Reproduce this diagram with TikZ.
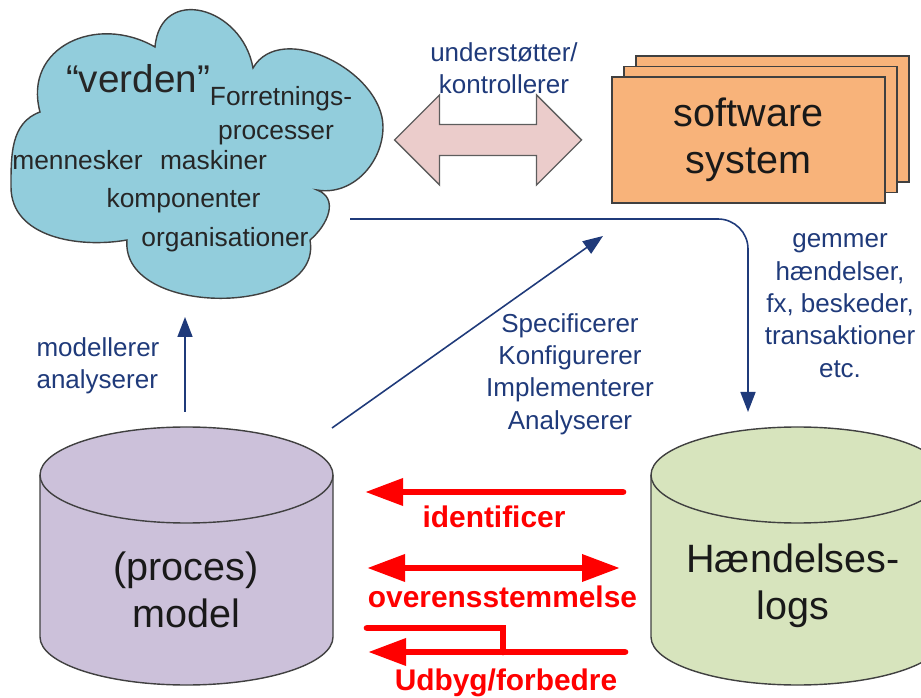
\documentclass[tikz,border=0pt]{standalone}
\usepackage{fontspec}
\setmainfont{Liberation Sans}
\usetikzlibrary{arrows.meta, positioning, calc}
\definecolor{cnavy}{HTML}{1F3A7A}
\definecolor{ccloud}{HTML}{92CDDC}
\definecolor{cpink}{HTML}{EBCCCB}
\definecolor{corange}{HTML}{F8B37A}
\definecolor{clilac}{HTML}{CCC1DA}
\definecolor{cgreen}{HTML}{D7E4BD}
\definecolor{cred}{HTML}{FF0000}
\definecolor{cedge}{HTML}{404040}
\tikzset{
  every picture/.style={line width=0.8pt},
  world/.style={font=\fontsize{15}{18}\selectfont, text=black!85, inner sep=0pt, anchor=base},
  bigtext/.style={font=\fontsize{22.5}{26.5}\selectfont, align=center, text=black!90},
  note/.style={font=\fontsize{14.8}{18.4}\selectfont, text=cnavy, align=center},
  sysbox/.style={draw=cedge, fill=corange, minimum width=5.46cm, minimum height=2.52cm},
  tank/.style={draw=cedge, fill=#1},
  navyarrow/.style={-{Triangle[length=4mm, width=3mm]}, draw=cnavy, line width=0.9pt},
  redline/.style={draw=cred, line width=3.8pt, line cap=round},
  redarrow/.style={redline, -{Triangle[length=7.6mm, width=5.2mm]}},
  redlabel/.style={font=\fontsize{17}{20}\selectfont\bfseries, text=cred, anchor=base},
}
\begin{document}
\begin{tikzpicture}
  \useasboundingbox (0,0) rectangle (18.42,13.94);
  \clip (0,0) rectangle (18.42,13.94);
  % the world
  \draw[draw=cedge, fill=ccloud] (0.8,11.7) to[out=105,in=150,looseness=1.3] (3.1,13.0)
    to[out=85,in=100,looseness=1.6] (5.06,12.58) to[out=60,in=90] (7.66,11.4)
    to[out=-90,in=-10] (6.34,10.14) to[out=-20,in=40,looseness=1.2] (6.2,9.14)
    to[out=-80,in=-95,looseness=1.1] (2.54,9.14) to[out=190,in=-90] (0.22,10.2)
    to[out=90,in=200] cycle;
  \node[world, font=\fontsize{22}{26}\selectfont] (verden) at (2.76,12.08) {“verden”};
  \node[world] (forr) at (5.62,11.82) {Forretnings-};
  \node[world] (proc) at (5.52,11.14) {processer};
  \node[world] (menn) at (1.55,10.54) {mennesker};
  \node[world] (mask) at (4.27,10.54) {maskiner};
  \node[world] (komp) at (3.67,9.78) {komponenter};
  \node[world] (org) at (4.5,9.0) {organisationer};
  % software system
  \node[sysbox] (sys3) at (15.45,11.56) {};
  \node[sysbox] (sys2) at (15.21,11.35) {};
  \node[sysbox, bigtext] (sys) at (14.97,11.14) {software\\system};
  % block arrow between world and system
  \coordinate (link) at (9.76,11.14);
  \draw[draw=cedge!85, fill=cpink] ($(link)+(-1.87,0)$) -- ++(0.9,0.9) -- ++(0,-0.59) -- ++(1.94,0)
    -- ++(0,0.59) -- ++(0.9,-0.9) -- ++(-0.9,-0.9) -- ++(0,0.59) -- ++(-1.94,0) -- ++(0,-0.59) -- cycle;
  \node[note] (support) at (10.08,12.57) {understøtter/\\kontrollerer};
  % process model
  \path[tank=clilac] (0.8,4.44) -- (0.8,1.2) arc[start angle=180, end angle=360, x radius=2.93, y radius=0.96]
    -- (6.66,4.44) arc[start angle=0, end angle=180, x radius=2.93, y radius=0.96] -- cycle;
  \draw[draw=cedge] (0.8,4.44) arc[start angle=180, end angle=360, x radius=2.93, y radius=0.96];
  \node[bigtext] (model) at (3.72,2.14) {(proces)\\model};
  % event logs
  \path[tank=cgreen] (13.02,4.44) -- (13.02,1.2) arc[start angle=180, end angle=360, x radius=2.93, y radius=0.96]
    -- (18.88,4.44) arc[start angle=0, end angle=180, x radius=2.93, y radius=0.96] -- cycle;
  \draw[draw=cedge] (13.02,4.44) arc[start angle=180, end angle=360, x radius=2.93, y radius=0.96];
  \node[bigtext] (logs) at (15.86,2.22) {Hændelses-\\logs};
  % navy connectors
  \coordinate (modtop) at (3.7,5.7);
  \coordinate (cloudbot) at (3.7,7.6);
  \draw[navyarrow] (modtop) -- (cloudbot);
  \node[note, align=left] (modnote) at (1.96,6.62) {modellerer\\analyserer};
  \coordinate (specstart) at (6.64,5.38);
  \coordinate (specend) at (12.06,9.22);
  \draw[navyarrow] (specstart) -- (specend);
  \node[note] (spec) at (11.4,6.46) {Specificerer\\Konfigurerer\\Implementerer\\Analyserer};
  \coordinate (store) at (7.0,9.56);
  \coordinate (logsin) at (14.96,5.7);
  \draw[navyarrow, rounded corners=0.6cm] (store) -| (logsin);
  \node[note] (keep) at (16.8,7.83) {gemmer\\hændelser,\\fx, beskeder,\\transaktioner\\etc.};
  % red relations
  \coordinate (idR) at (12.46,4.1);
  \coordinate (idL) at (7.3,4.1);
  \draw[redarrow] (idR) -- (idL);
  \node[redlabel] (ident) at (9.88,3.4) {identificer};
  \coordinate (ovL) at (7.34,2.58);
  \coordinate (ovR) at (12.4,2.58);
  \draw[redarrow, {Triangle[length=7.6mm, width=5.2mm]}-{Triangle[length=7.6mm, width=5.2mm]}] (ovL) -- (ovR);
  \node[redlabel] (conf) at (10.05,1.8) {overensstemmelse};
  \coordinate (upR) at (12.5,0.9);
  \coordinate (upL) at (7.36,0.9);
  \coordinate (stepL) at (7.34,1.38);
  \draw[redline] (stepL) -- (10.06,1.38) -- (10.06,0.9);
  \draw[redarrow] (upR) -- (upL);
  \node[redlabel] (enh) at (10.12,0.14) {Udbyg/forbedre};
\end{tikzpicture}
\end{document}
